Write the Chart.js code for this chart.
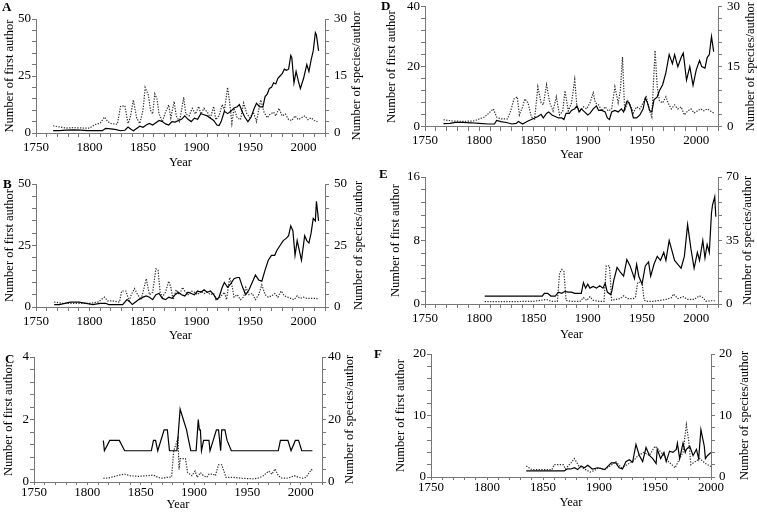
<!DOCTYPE html>
<html>
<head>
<meta charset="utf-8">
<script src="https://cdn.jsdelivr.net/npm/chart.js@4.4.1/dist/chart.umd.min.js"></script>
<style>
  html, body { margin: 0; padding: 0; background: #fff; overflow: hidden; }
  #wrap { position: relative; width: 757px; height: 514px; }
  canvas { position: absolute; left: 0; top: 0; }
</style>
</head>
<body>
<div id="wrap">
  <canvas id="panelA" width="757" height="514"></canvas>
  <canvas id="panelB" width="757" height="514"></canvas>
  <canvas id="panelC" width="757" height="514"></canvas>
  <canvas id="panelD" width="757" height="514"></canvas>
  <canvas id="panelE" width="757" height="514"></canvas>
  <canvas id="panelF" width="757" height="514"></canvas>
</div>
<script>
// ---- panel A ----
const aAuthorYears = [1766,1772,1778,1785,1792,1798,1805,1812,1815,1820,1825,1829,1833,1836,1839,1841,1844,1847,1850,1853,1856,1859,1862,1865,1868,1871,1874,1877,1880,1883,1886,1889,1892,1895,1898,1901,1904,1907,1910,1913,1916,1919,1921,1923,1926,1929,1932,1935,1938,1940,1943,1945,1948,1951,1954,1956,1959,1962,1964,1966,1968,1970,1972,1974,1976,1978,1980,1982,1984,1986,1988,1989,1991,1993,1995,1997,2000,2003,2005,2007,2009,2011,2012,2014];
const aAuthors = [1,1,1.3,1.4,1.3,1,1,1,2,1.8,1.5,1,1.2,2.6,1.5,1,2,3,2.5,3.5,4.2,3.5,4.5,5.5,5,4,3.5,5,4.8,5.5,6,7.5,6,5,6.5,6,8.5,8,7.5,6.5,5.5,3.5,3.3,5,9.5,8.5,9.5,11,11.5,12.5,9,7,5,7,11,13,11.5,11.5,16,17,19.5,20,22,21.5,24,25,26,28,27.5,28,34,33,22,27,23,19.5,24,30,27,32,36,44,43,36];
const aSpeciesYears = [1766,1772,1778,1785,1795,1800,1805,1810,1814,1817,1820,1826,1829,1833,1836,1838,1841,1844,1847,1850,1852,1855,1857,1859,1861,1863,1865,1868,1871,1874,1876,1879,1881,1884,1886,1888,1890,1893,1896,1899,1902,1904,1907,1910,1913,1916,1918,1921,1924,1926,1929,1931,1933,1935,1938,1941,1944,1947,1950,1953,1956,1958,1960,1963,1966,1969,1972,1974,1977,1980,1983,1986,1989,1992,1995,1998,2001,2004,2007,2010,2013];
const aSpecies = [1.9,1.6,1.3,1.4,1.3,1.3,2.2,2.6,4.2,3,2.5,2.3,7,7.2,2.5,4,8.7,4,2.5,6,12,10,6,5,10.3,9,5,3,5.5,7.4,4,8.3,4.5,3,6,9.4,5,4.5,6.5,5,7,5,6.5,5.5,4,7,3.5,4.5,7.5,6,12,8,2.5,6.5,4,3.5,7.9,5,4,5.5,3,6,8.7,5.5,4,5,5.5,4.5,6.5,4.5,5,3.5,3.3,4.5,3.5,4,4.5,3.5,4,3.3,3];

// ---- panel B ----
const bAuthorYears = [1767,1772,1777,1782,1790,1797,1803,1810,1815,1818,1825,1831,1835,1838,1840,1843,1846,1850,1853,1856,1859,1862,1865,1868,1871,1874,1877,1880,1883,1886,1889,1892,1895,1898,1901,1904,1907,1910,1913,1916,1919,1921,1924,1926,1929,1932,1935,1938,1940,1943,1946,1949,1952,1955,1958,1961,1964,1967,1970,1973,1975,1978,1981,1984,1986,1988,1990,1992,1994,1996,1998,2001,2003,2005,2007,2009,2011,2012,2014];
const bAuthors = [1,1,1.5,2,2,1.5,1,1.5,1.5,1,1,1,3,2,1,2,3,4,4.5,4,3,5,5.5,3.5,3,4,3.5,5,6,5,4.5,6,5.5,5,6.5,6,7,6,6.5,5,3,4,8,10,8,9.5,11.5,12,12,8,5,7,10,13,11,10.5,15,19,21,21,23,25,27,28,29,33,31,21,27,23,19,29,27,26,30,36,35,43,35];
const bSpeciesYears = [1767,1775,1790,1800,1808,1814,1817,1822,1828,1830,1834,1837,1839,1842,1845,1848,1850,1853,1856,1859,1862,1864,1866,1868,1871,1874,1876,1878,1881,1884,1887,1889,1892,1895,1898,1901,1904,1907,1910,1913,1916,1918,1921,1924,1926,1928,1931,1933,1935,1938,1941,1944,1946,1949,1952,1955,1958,1961,1964,1967,1970,1973,1976,1979,1982,1985,1988,1991,1994,1997,2000,2003,2006,2009,2012,2014];
const bSpecies = [2,1.5,1.5,1.5,2,4,2.5,2.5,2,6.5,6.5,2.5,5,7.5,5,3,6,11.5,5,6,15.5,15,6,4,6,10.5,8,3,7,5,8,6.5,5,6.5,6,5,6.5,5.5,6,5,5.5,3,3.5,5,6,3,12,9,4,5,3,4,8,5,5.5,3,5,9,5,4,4.5,5.5,4,6.5,4.5,4,3.5,3,4.5,3.5,4,3.5,3.5,3.5,3.5,3];

// ---- panel C ----
const cAuthorYears = [1815,1816,1821,1830,1835,1860,1862,1864,1866,1872,1875,1877,1884,1887,1890,1893,1895,1897,1902,1904,1905,1906,1907,1909,1914,1915,1918,1921,1923,1925,1926,1929,1931,1935,1979,1981,1988,1991,1995,1998,2001,2011];
const cAuthors = [1.33,1,1.33,1.33,1,1,1.33,1.33,1,1.67,1.67,1,1,2.33,2,1.67,1.33,1,1,2,1.67,1.67,1,1.33,1.33,1,1.33,1.67,1.67,1,1.67,1.67,1.33,1,1,1.33,1.33,1,1.33,1.33,1,1];
const cSpeciesYears = [1815,1820,1830,1835,1840,1848,1855,1862,1866,1870,1875,1879,1881,1883,1885,1886,1887,1892,1894,1898,1901,1903,1906,1909,1912,1914,1918,1920,1923,1926,1928,1930,1936,1945,1955,1960,1965,1970,1973,1976,1979,1982,1987,1990,1994,1998,2002,2005,2008,2010,2012];
const cSpecies = [1.2,1.3,2.2,2.5,2,1.8,2,2.2,1.5,1.2,1.5,1.6,10,12,14,4,7.5,7.5,3,2,3.5,1.5,3,2,1.5,2.5,2.5,2,5.5,5.5,3.5,1.5,1.5,1.2,1,1.2,2,3.5,2.5,4.2,2,1.3,1.2,1.5,2,1.5,1.2,1.5,3,4,3.5];

// ---- panel D ----
const dAuthorYears = [1767,1773,1778,1785,1792,1800,1808,1814,1816,1820,1825,1830,1834,1836,1840,1844,1848,1851,1854,1857,1859,1862,1864,1867,1870,1873,1876,1878,1880,1883,1885,1888,1890,1892,1894,1897,1900,1902,1905,1908,1910,1913,1916,1918,1920,1922,1925,1928,1931,1933,1936,1938,1940,1942,1945,1948,1951,1953,1955,1957,1959,1961,1964,1966,1969,1972,1975,1978,1980,1983,1986,1988,1991,1994,1997,2000,2003,2005,2008,2010,2012,2014,2016];
const dAuthors = [1.1,1.2,1.5,1.5,1.4,1.2,1,1,2.2,1.8,1.5,1,1.2,1.8,1,1.8,2.5,3,3.5,4.2,3,4.5,5,4,3.5,3,3,2.5,4.5,4.5,5.5,6,7,5,6,5,4,4.5,6,7,5.5,5.5,5,3,2.5,5,5.5,5,6,5,8.5,8,6,3,3,4,6,9.7,8,5.5,5,9,10,12,14,18,24,21,24,20,23,24.5,15.5,20,13.8,19,22,20,19.5,23,24,30,25];
const dSpeciesYears = [1767,1775,1785,1795,1800,1805,1809,1813,1816,1820,1826,1829,1832,1835,1837,1840,1842,1845,1848,1851,1854,1857,1859,1862,1865,1868,1871,1874,1877,1879,1882,1885,1888,1890,1893,1896,1899,1902,1905,1907,1910,1913,1916,1919,1922,1925,1928,1930,1932,1934,1937,1940,1942,1945,1948,1951,1954,1957,1959,1962,1964,1966,1969,1972,1974,1977,1980,1983,1986,1989,1992,1995,1998,2001,2004,2007,2010,2013,2016];
const dSpecies = [1.8,1.5,1.4,1.5,2,2.5,3.5,4.5,2.5,2,2,4,7,7.5,3,5,7,6,2.5,2,10,6,5.5,10.5,6,4,7.5,3,4,9,4,6,11.8,5,4,5,4.5,6,8.5,6,5.5,4,5,4,4.5,10,6,9,17.4,4,6.5,5,3.5,5,4.5,6,7.5,4,2.5,19,10,6.5,6,7.5,6,4.5,5.5,4.5,5,3,4,4.5,3.5,4,4.5,4,4.5,4,3.5];

// ---- panel E ----
const eAuthorYears = [1805,1858,1860,1863,1866,1870,1873,1876,1879,1882,1885,1888,1894,1896,1898,1900,1902,1905,1908,1911,1914,1916,1918,1921,1922,1924,1927,1930,1933,1936,1939,1943,1945,1947,1950,1953,1956,1958,1961,1964,1967,1970,1972,1975,1977,1980,1983,1986,1989,1992,1995,1998,2001,2003,2006,2008,2010,2012,2014,2015,2017,2018];
const eAuthors = [1,1,1.35,1.35,1,1,1.5,1.35,1.6,1.5,1.5,1.35,1.35,2.7,2,2.5,2,2.2,2,2.3,2,2.6,1.5,1.2,1.5,3,4.6,4,3.5,5.6,4.8,3.2,5,3.5,2.5,4.8,5.3,3.5,5,6,5.5,6.5,5.5,8,7,5.5,5,4.5,6,10,7,4.5,6.5,5.5,8,5.8,7.5,6.5,11.5,12.5,13.5,11];
const eSpeciesYears = [1805,1830,1850,1862,1866,1872,1874,1876,1878,1880,1885,1893,1896,1899,1902,1905,1910,1915,1917,1920,1922,1925,1930,1933,1937,1942,1944,1946,1950,1952,1955,1960,1967,1972,1977,1979,1983,1988,1992,1998,2003,2006,2009,2013,2017];
const eSpecies = [1.3,1.3,1.5,2.5,1.5,1.5,17,19,18,2,1.5,1.5,3.5,2,4,2,1.5,1.5,21,21,2,2.5,3,4.5,3,3,4,12,12,2,1.5,1.5,2,2.5,3.5,5.5,3,4,2.5,2.5,4.5,3.5,1.5,1.8,1.8];

// ---- panel F ----
const fAuthorYears = [1835,1869,1872,1875,1878,1881,1884,1887,1890,1894,1899,1905,1911,1915,1918,1921,1924,1927,1930,1933,1936,1939,1942,1945,1948,1951,1952,1955,1958,1960,1963,1966,1969,1970,1972,1975,1977,1978,1981,1984,1987,1989,1991,1994,1995,1997,2000];
const fAuthors = [1,1,1.33,1.3,1.5,1.2,1.8,1.5,1.9,1.3,1.5,1.2,2.3,2.3,1.5,1.3,2.5,2.8,2.4,5.3,3.5,2.5,4.8,3.5,3,2.2,4.5,3,4,2.5,4.2,4,4.5,5.5,3,5.5,4,4.5,5,3.5,4.5,3,7.7,5,3,3.5,4];
const fSpeciesYears = [1835,1840,1850,1858,1860,1868,1870,1875,1878,1882,1888,1892,1895,1900,1905,1910,1915,1920,1925,1930,1935,1940,1945,1950,1953,1958,1962,1965,1968,1972,1975,1978,1980,1982,1986,1990,1995,2000];
const fSpecies = [1.8,1.2,1.2,1.2,2,2,1.3,2.3,3,1.8,1.2,0.8,1,1.5,1.2,1.8,2.5,1.5,2,2.5,3.5,4,3.5,5,4.5,3.5,2.5,2,1.5,3,4,8.5,6,2,2.5,3,2.2,1.7];

const leftAxisTitle = 'Number of first author';
const rightAxisTitle = 'Number of species/author';
const xAxisTitle = 'Year';

Chart.defaults.font.family = '"Liberation Serif", "Times New Roman", serif';
Chart.defaults.font.size = 13;
Chart.defaults.color = '#000';

const axisGray = '#777';
const titleSize = 12.5;

function toPoints(years, vals) {
    return years.map((yr, i) => ({ x: yr, y: vals[i] }));
}

// draws the panel letter and the right-hand title (reads bottom to top)
const panelText = {
    id: 'panelText',
    afterDraw(chart, args, opts) {
        const ctx = chart.ctx;
        const area = chart.chartArea;
        ctx.save();
        ctx.fillStyle = '#000';
        ctx.font = 'bold 13px "Liberation Serif"';
        ctx.textAlign = 'left';
        ctx.textBaseline = 'alphabetic';
        ctx.fillText(opts.letter, opts.letterX, opts.letterY);
        ctx.font = titleSize + 'px "Liberation Serif"';
        ctx.translate(opts.rightTitleX, (area.top + area.bottom) / 2);
        ctx.rotate(-Math.PI / 2);
        ctx.textAlign = 'center';
        ctx.textBaseline = 'middle';
        ctx.fillText(rightAxisTitle, 0, 0);
        ctx.restore();
    }
};

// labels only at 0, middle and top; a tick mark every tenth
function sideTicks(max, pad) {
    return {
        stepSize: max / 10,
        padding: pad,
        font: { lineHeight: 0.2 },
        callback: (v) => {
            if (Math.abs(v) < 1e-6 || Math.abs(v - max / 2) < 1e-6 || Math.abs(v - max) < 1e-6)
                return String(Math.round(v * 100) / 100);
            return '';
        }
    };
}

function makePanel(id, g, authorYears, authorVals, speciesYears, speciesVals) {
    const half = titleSize * 0.6;
    const wL = g.L - g.leftTitleX + half;
    const wR = 30;
    const hX = g.yearGap + half;
    const gridOpts = { drawOnChartArea: false, drawTicks: true, tickLength: 4, color: axisGray, lineWidth: 1 };
    const borderOpts = { display: true, color: axisGray, width: 1 };

    new Chart(document.getElementById(id), {
        type: 'line',
        data: {
            datasets: [
                {
                    data: toPoints(authorYears, authorVals),
                    yAxisID: 'y',
                    borderColor: '#000',
                    borderWidth: 1.2,
                    pointRadius: 0,
                    tension: 0
                },
                {
                    data: toPoints(speciesYears, speciesVals),
                    yAxisID: 'y1',
                    borderColor: '#2e2e2e',
                    borderWidth: 1.2,
                    borderDash: [1.3, 1.4],
                    pointRadius: 0,
                    tension: 0
                }
            ]
        },
        options: {
            responsive: false,
            animation: false,
            events: [],
            layout: {
                padding: { left: g.L - wL, right: 757 - g.R - wR, top: g.T, bottom: 514 - g.B - hX }
            },
            plugins: {
                legend: { display: false },
                tooltip: { enabled: false },
                panelText: { letter: g.letter, letterX: g.letterX, letterY: g.letterY, rightTitleX: g.rightTitleX }
            },
            scales: {
                x: {
                    type: 'linear',
                    min: 1750,
                    max: g.xMax,
                    afterFit: (s) => { s.height = hX; },
                    ticks: {
                        stepSize: 10,
                        autoSkip: false,
                        maxRotation: 0,
                        padding: g.xPad,
                        callback: (v) => v % 50 === 0 ? String(v) : ''
                    },
                    grid: Object.assign({}, gridOpts, { tickLength: g.xTick }),
                    border: borderOpts,
                    title: { display: true, text: xAxisTitle, padding: 0, font: { size: titleSize } }
                },
                y: {
                    position: 'left',
                    min: 0,
                    max: g.yMax,
                    afterFit: (s) => { s.width = wL; },
                    ticks: sideTicks(g.yMax, 1),
                    grid: gridOpts,
                    border: borderOpts,
                    title: { display: true, text: leftAxisTitle, padding: 0, font: { size: titleSize } }
                },
                y1: {
                    position: 'right',
                    min: 0,
                    max: g.y1Max,
                    afterFit: (s) => { s.width = wR; },
                    ticks: sideTicks(g.y1Max, g.rPad),
                    grid: gridOpts,
                    border: borderOpts
                }
            }
        },
        plugins: [panelText]
    });
}

makePanel('panelA', { L: 36, R: 325, T: 19, B: 133, xMax: 2020, yMax: 50, y1Max: 30, leftTitleX: 10, rightTitleX: 357, rPad: 5, yearGap: 30, xPad: 3, xTick: 4, letter: 'A', letterX: 2, letterY: 11 },
    aAuthorYears, aAuthors, aSpeciesYears, aSpecies);
makePanel('panelB', { L: 36, R: 325, T: 184, B: 307, xMax: 2020, yMax: 50, y1Max: 50, leftTitleX: 10, rightTitleX: 359, rPad: 5, yearGap: 29, xPad: 3, xTick: 4, letter: 'B', letterX: 3, letterY: 188 },
    bAuthorYears, bAuthors, bSpeciesYears, bSpecies);
makePanel('panelC', { L: 34, R: 322, T: 357, B: 482, xMax: 2020, yMax: 4, y1Max: 40, leftTitleX: 9, rightTitleX: 350, rPad: 2, yearGap: 23, xPad: 0, xTick: 3, letter: 'C', letterX: 5, letterY: 363 },
    cAuthorYears, cAuthors, cSpeciesYears, cSpecies);
makePanel('panelD', { L: 425, R: 718, T: 6, B: 127, xMax: 2020, yMax: 40, y1Max: 30, leftTitleX: 392, rightTitleX: 751, rPad: 5, yearGap: 28, xPad: 2, xTick: 4, letter: 'D', letterX: 381, letterY: 10 },
    dAuthorYears, dAuthors, dSpeciesYears, dSpecies);
makePanel('panelE', { L: 425, R: 718, T: 177, B: 304, xMax: 2020, yMax: 16, y1Max: 70, leftTitleX: 396, rightTitleX: 748, rPad: 4, yearGap: 31, xPad: 3, xTick: 4, letter: 'E', letterX: 379, letterY: 178 },
    eAuthorYears, eAuthors, eSpeciesYears, eSpecies);
makePanel('panelF', { L: 431, R: 711, T: 354, B: 477, xMax: 2000, yMax: 20, y1Max: 20, leftTitleX: 401, rightTitleX: 745, rPad: 4, yearGap: 26, xPad: 0, xTick: 3, letter: 'F', letterX: 374, letterY: 358 },
    fAuthorYears, fAuthors, fSpeciesYears, fSpecies);
</script>
</body>
</html>
